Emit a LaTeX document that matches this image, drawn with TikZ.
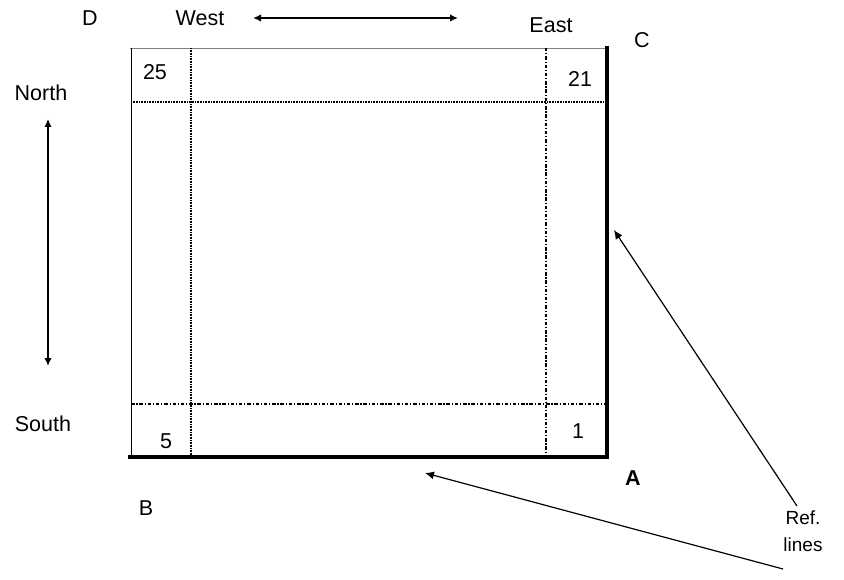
\documentclass[tikz,border=0pt]{standalone}
\usepackage{fontspec}
\setmainfont{Liberation Sans}
\usetikzlibrary{arrows.meta}
\begin{document}
\begin{tikzpicture}[x=1pt,y=-1pt,
  lbl/.style={inner sep=0pt,font=\fontsize{21.5}{26}\selectfont},
  thinline/.style={line width=0.9pt},
  dotline/.style={line width=1.1pt,dash pattern=on 0.9pt off 0.7pt},
  dashdotline/.style={line width=1.2pt,dash pattern=on 3.5pt off 1.8pt on 1.2pt off 1.8pt},
  thickline/.style={line width=4.2pt},
  dblarrow/.style={line width=1.6pt,{Latex[length=8pt,width=7.5pt]}-{Latex[length=8pt,width=7.5pt]}},
  refarrow/.style={line width=1.2pt,-{Latex[length=9pt,width=8pt]}}]
\useasboundingbox (0,0) rectangle (844,580);
% outline
\draw[thinline,gray] (130,48) -- (607,48);
\draw[thinline] (131,48) -- (131,457);
% internal lines
\draw[dotline] (191,48) -- (191,457);
\draw[dotline] (131,102) -- (607,102);
\draw[dashdotline] (546,48) -- (546,457);
\draw[dashdotline] (131,404) -- (607,404);
% thick reference lines
\draw[thickline] (607,46) -- (607,459);
\draw[thickline] (128,457) -- (609,457);
% labels
\node[lbl] (D) at (90,18) {D};
\node[lbl] (West) at (200,18) {West};
\node[lbl] (East) at (551,25) {East};
\node[lbl] (C) at (642,40) {C};
\node[lbl] (n25) at (155,72) {25};
\node[lbl] (n21) at (580,79) {21};
\node[lbl] (North) at (41,93) {North};
\node[lbl] (South) at (43,424) {South};
\node[lbl] (n5) at (166,441) {5};
\node[lbl] (n1) at (578,431) {1};
\node[lbl,font=\fontsize{21.5}{26}\selectfont\bfseries] (A) at (633,478) {A};
\node[lbl] (B) at (146,508) {B};
\node[lbl,align=center,font=\fontsize{19}{27}\selectfont] (ref) at (803,531) {Ref.\\lines};
% direction arrows
\coordinate (we1) at (253,18);
\coordinate (we2) at (458,18);
\draw[dblarrow] (we1) -- (we2);
\coordinate (ns1) at (48,119);
\coordinate (ns2) at (48,366);
\draw[dblarrow] (ns1) -- (ns2);
% ref arrows
\coordinate (r1s) at (797,506);
\coordinate (r1e) at (614,230);
\coordinate (r2s) at (783,569);
\coordinate (r2e) at (425,473);
\draw[refarrow] (r1s) -- (r1e);
\draw[refarrow] (r2s) -- (r2e);
\end{tikzpicture}
\end{document}
